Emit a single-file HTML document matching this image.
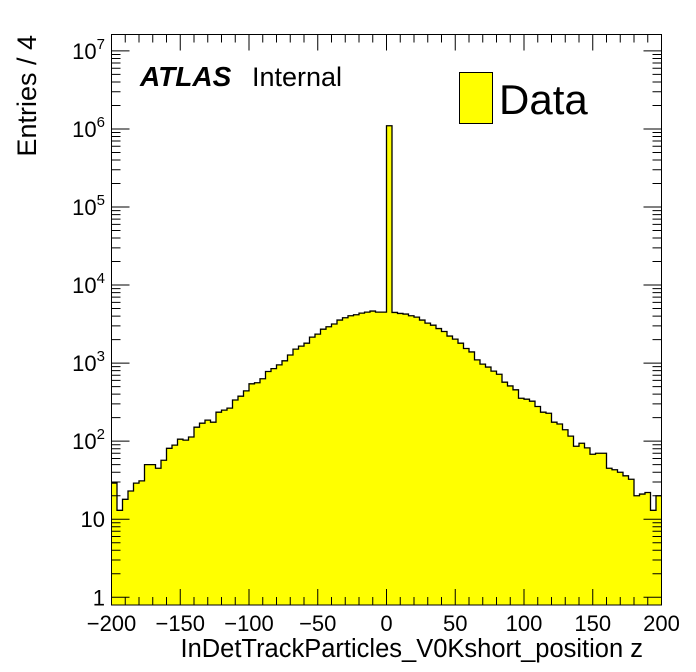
<!DOCTYPE html>
<html><head><meta charset="utf-8"><style>
html,body{margin:0;padding:0;background:#fff;}
svg{display:block;font-family:"Liberation Sans",sans-serif;}
</style></head><body>
<svg id="c" width="696" height="672" viewBox="0 0 696 672">
<rect x="0" y="0" width="696" height="672" fill="#fff"/>
<g id="plot"></g>
<g id="axes"></g>
<text x="140" y="86" font-size="28" font-weight="bold" font-style="italic">ATLAS</text>
<text x="252" y="86" font-size="27">Internal</text>
<rect x="459.5" y="72.5" width="33" height="51" fill="#ffff00" stroke="#000" stroke-width="1"/>
<text x="499" y="114" font-size="42">Data</text>
<text x="643" y="657" font-size="25.5" text-anchor="end">InDetTrackParticles_V0Kshort_position z</text>
<text transform="translate(36,35) rotate(-90)" font-size="27" text-anchor="end">Entries / 4</text>
</svg>
<script>
const binEdgesMin = -200;
const binWidth = 4;
const counts = [29,13,18,23,29,31,50,50,45,57,81,89,106,103,113,151,170,186,175,235,250,265,337,377,441,543,560,630,780,850,950,1070,1270,1510,1650,1800,2150,2350,2720,2920,3170,3560,3810,4040,4160,4370,4500,4640,4500,4500,
1100000,4460,4330,4250,4040,3880,3560,3250,3060,2770,2540,2220,2030,1800,1540,1390,1100,970,890,790,720,570,510,455,355,345,325,278,235,228,175,166,140,116,86,94,82,68,70,70,45,43,40,36,32.5,20,21,22,13,20];
const xTicks = [-200,-150,-100,-50,0,50,100,150,200];
const xTickLabels = ["\u2212200","\u2212150","\u2212100","\u221250","0","50","100","150","200"];
const yDecades = [0,1,2,3,4,5,6,7];

const L=111.5,R=661.5,T=34.5,B=605;
const xMin=-200,xMax=200, logMin=-0.099, logMax=7.21;
const sx=v=>L+(v-xMin)/(xMax-xMin)*(R-L);
const sy=v=>B-(Math.log10(v)-logMin)/(logMax-logMin)*(B-T);
const NS="http://www.w3.org/2000/svg";
function mk(tag,attrs,parent){const e=document.createElementNS(NS,tag);for(const k in attrs)e.setAttribute(k,attrs[k]);parent.appendChild(e);return e;}
const plot=document.getElementById('plot'), axes=document.getElementById('axes');

let d=`M${sx(binEdgesMin)},${B}`;
counts.forEach((c,i)=>{const x0=sx(binEdgesMin+i*binWidth),x1=sx(binEdgesMin+(i+1)*binWidth),y=sy(c);d+=` L${x0},${y} L${x1},${y}`;});
d+=` L${sx(binEdgesMin+counts.length*binWidth)},${B} Z`;
const fill=mk('path',{d:d,fill:'#ffff00',stroke:'none'},plot);


let d2='';
counts.forEach((c,i)=>{const x0=sx(binEdgesMin+i*binWidth),x1=sx(binEdgesMin+(i+1)*binWidth),y=sy(c);d2+=(i?' L':'M')+`${x0},${y} L${x1},${y}`;});
const line=mk('path',{d:d2,fill:'none',stroke:'#000','stroke-width':1.3},plot);



const fr=mk('rect',{x:L,y:T,width:R-L,height:B-T,fill:'none',stroke:'#000','stroke-width':1},axes);



let tk='';
for(let v=xMin;v<=xMax;v+=10){const x=sx(v),len=(v%50===0)?16:8;tk+=`M${x},${B} V${B-len} M${x},${T} V${T+len} `;}
for(let k=0;k<=7;k++){for(let m=1;m<=9;m++){const v=m*Math.pow(10,k);const lg=Math.log10(v);if(lg<logMin||lg>logMax)continue;const y=sy(v),len=m===1?18:9;tk+=`M${L},${y} H${L+len} M${R},${y} H${R-len} `;}}
const ticks=mk('path',{d:tk,stroke:'#000','stroke-width':1,fill:'none'},axes);



xTicks.forEach((v,i)=>{const t=mk('text',{x:sx(v),y:631,'font-size':22,'text-anchor':'middle'},axes);t.textContent=xTickLabels[i];

});

yDecades.forEach(k=>{const y=sy(Math.pow(10,k));const t=mk('text',{x:105,y:y+8,'font-size':22,'text-anchor':'end'},axes);


if(k===0){t.textContent='1';}else if(k===1){t.textContent='10';}else{t.textContent='10';const s=mk('tspan',{dy:-10,'font-size':15},t);s.textContent=String(k);}});
</script>
</body></html>
